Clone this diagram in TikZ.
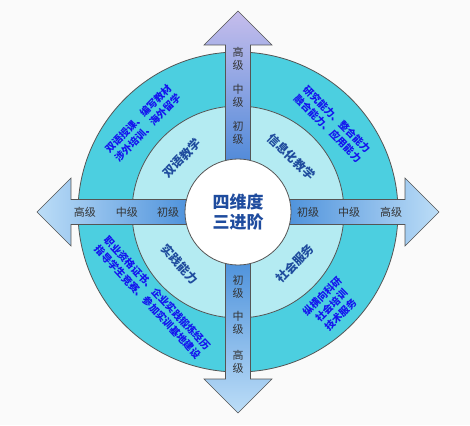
\documentclass[tikz,border=0pt]{standalone}
\usepackage{fontspec}
\newfontfamily\cjk{Noto Sans CJK SC}
\usetikzlibrary{positioning}

\definecolor{bgcol}{HTML}{FAFAFA}
\definecolor{ringout}{HTML}{4CCFE0}
\definecolor{ringin}{HTML}{B4EBF2}
\definecolor{arrdark}{HTML}{2B7AD3}
\definecolor{arrlight}{HTML}{BCDDF7}
\definecolor{arrlilac}{HTML}{C6BDEC}
\definecolor{labdark}{HTML}{1F4C9E}
\definecolor{labblue}{HTML}{1414EE}
\definecolor{edgecol}{HTML}{555555}

\begin{document}
\begin{tikzpicture}[x=1pt,y=1pt,font=\cjk,
 ring/.style={circle,draw=edgecol,line width=0.8pt},
 arrowbody/.style={draw=edgecol,line width=0.6pt},
 level/.style={font=\cjk\fontsize{11}{13}\selectfont,text=black!80,inner sep=0pt,align=center},
 inner label/.style={font=\cjk\bfseries\fontsize{12}{14}\selectfont,text=labdark,inner sep=0pt},
 outer label/.style={font=\cjk\bfseries\fontsize{10}{13}\selectfont,text=labblue,align=center,inner sep=0pt}]
   \fill[bgcol] (-238,-213) rectangle (232,212);
   \useasboundingbox (-238,-213) rectangle (232,212);

   \node[ring,fill=ringout,minimum size=320pt] (outer) at (0,0) {};
   \node[ring,fill=ringin,minimum size=212pt] (middle) at (0,0) {};

   % four arrows, dark at the centre, light at the tip
   \shade[arrowbody,top color=arrlilac,bottom color=arrdark]
     (-12.5,0) -- (-12.5,167) -- (-34,167) -- (0,201) -- (34,167) -- (12.5,167) -- (12.5,0) -- cycle;
   \shade[arrowbody,top color=arrdark,bottom color=arrlight]
     (-12.5,0) -- (-12.5,-167) -- (-34,-167) -- (0,-201) -- (34,-167) -- (12.5,-167) -- (12.5,0) -- cycle;
   \shade[arrowbody,left color=arrlight,right color=arrdark]
     (0,-12.5) -- (-167,-12.5) -- (-167,-34) -- (-201,0) -- (-167,34) -- (-167,12.5) -- (0,12.5) -- cycle;
   \shade[arrowbody,left color=arrdark,right color=arrlight]
     (0,-12.5) -- (167,-12.5) -- (167,-34) -- (201,0) -- (167,34) -- (167,12.5) -- (0,12.5) -- cycle;

   \node[ring,fill=white,minimum size=106pt,
     font=\cjk\bfseries\fontsize{17}{20}\selectfont,text=labdark,align=center] (core) at (0,0) {四维度\\三进阶};

   \foreach \x/\t/\n in {-153/高级/lh, -111/中级/lm, -70/初级/ll, 70/初级/rl, 111/中级/rm, 153/高级/rh} {
     \node[level] (\n) at (\x,0) {\t};}
   \foreach \y/\t/\n in {153/高\\级/th, 116/中\\级/tm, 79/初\\级/tl, -75/初\\级/bl, -111/中\\级/bm, -150/高\\级/bh} {
     \node[level] (\n) at (0,\y) {\t};}

   \node[inner label,rotate=46] (bilingual) at (136:78) {双语教学};
   \node[inner label,rotate=-44] (info) at (46:77) {信息化教学};
   \node[inner label,rotate=-47] (practice) at (222:78) {实践能力};
   \node[inner label,rotate=46] (service) at (-42:77) {社会服务};

   \node[outer label,rotate=46] (bilingualx) at (137:130) {双语授课、编写教材\\涉外培训、海外留学};
   \node[outer label,rotate=-45] (infox) at (43:129) {研究能力、整合能力\\融合能力、应用能力};
   \node[outer label,rotate=-47] (practicex) at (225:121) {职业资格证书、企业实践锻炼经历\\指导学生竞赛、参加实训基地建设};
   \node[outer label,rotate=45] (servicex) at (-45:132) {纵横向科研\\社会培训\\技术服务};
\end{tikzpicture}
\end{document}
